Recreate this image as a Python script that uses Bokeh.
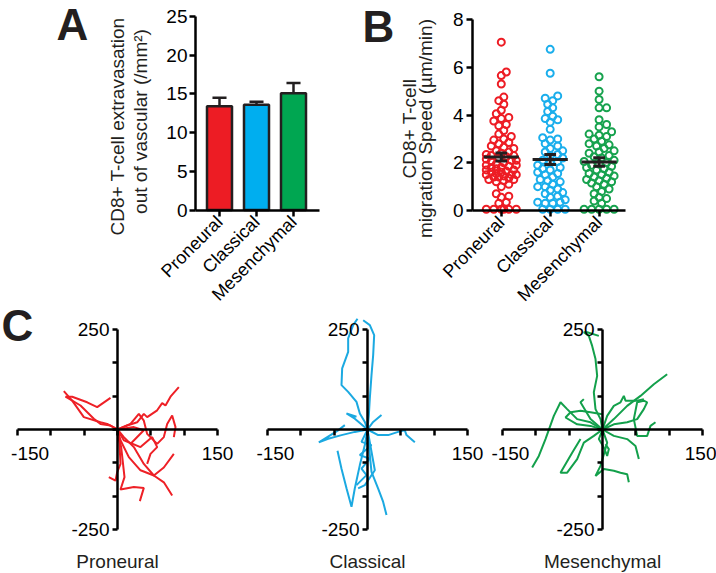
import math
import numpy as np
from bokeh.plotting import figure
from bokeh.models import Range1d, LinearAxis, FixedTicker
from bokeh.core.properties import value
from bokeh.embed import file_html
from bokeh.resources import INLINE

FONT = "Liberation Sans"
INK = "#231F20"
RED, BLUE, GREEN = "#ED1C24", "#00AEEF", "#00A651"
TRACK_COLORS = ["#EE2026", "#1BA9E1", "#13A04B"]
GROUPS = ["Proneural", "Classical", "Mesenchymal"]

# ---------------- Panel A data ----------------
A_MEAN = [13.4, 13.6, 15.1]
A_SEM = [1.1, 0.4, 1.3]
A_TICKS = [0, 5, 10, 15, 20, 25]
A_YLABEL = ["CD8+ T-cell extravasation", "out of vascular (/mm\u00b2)"]

# ---------------- Panel B data ----------------
B_PRONEURAL = [7.05, 5.8, 5.65, 5.3, 4.75, 4.6, 4.45, 4.2, 4.05, 3.9, 3.85, 3.75, 3.6,
               3.55, 3.35, 3.2, 3.1, 3.0, 2.95, 2.85, 2.8, 2.7, 2.65, 2.6, 2.5, 2.45,
               2.4, 2.35, 2.3, 2.3, 2.25, 2.2, 2.15, 2.1, 2.1, 2.05, 2.0, 1.95, 1.9,
               1.9, 1.85, 1.8, 1.8, 1.75, 1.7, 1.7, 1.65, 1.6, 1.6, 1.55, 1.5, 1.5,
               1.5, 1.45, 1.4, 1.4, 1.35, 1.3, 1.3, 1.25, 1.2, 1.1, 1.0, 0.7, 0.6,
               0.55, 0.35, 0.3, 0.05, 0.05, 0.05, 0.05, 0.05, 0.05]
B_CLASSICAL = [6.75, 5.75, 4.8, 4.7, 4.6, 4.45, 4.3, 4.15, 3.95, 3.85, 3.8, 3.7, 3.4,
               3.05, 3.0, 2.95, 2.8, 2.7, 2.6, 2.5, 2.45, 2.35, 2.3, 2.2, 2.1, 2.05,
               2.0, 1.9, 1.8, 1.75, 1.7, 1.6, 1.55, 1.5, 1.4, 1.3, 1.25, 1.2, 1.1, 1.0,
               1.0, 0.9, 0.85, 0.75, 0.7, 0.6, 0.55, 0.45, 0.35, 0.35, 0.3, 0.3,
               0.05, 0.05, 0.05, 0.05]
B_MESENCHYMAL = [5.6, 5.0, 4.65, 4.3, 4.3, 3.8, 3.6, 3.5, 3.3, 3.2, 3.15, 3.1, 3.0,
                 2.9, 2.8, 2.75, 2.7, 2.6, 2.5, 2.45, 2.4, 2.3, 2.25, 2.2, 2.1, 2.05,
                 2.0, 1.95, 1.9, 1.85, 1.8, 1.75, 1.7, 1.6, 1.55, 1.5, 1.45, 1.4, 1.35,
                 1.3, 1.25, 1.2, 1.15, 1.1, 1.0, 0.9, 0.8, 0.7, 0.55, 0.5, 0.4, 0.3,
                 0.05, 0.05, 0.05, 0.05, 0.05]
B_TICKS = [0, 2, 4, 6, 8]
B_YLABEL = ["CD8+ T-cell", "migration Speed (\u00b5m/min)"]

# ---------------- Panel C data (tracks, um) ----------------
PRONEURAL_X = [[0, -15.5, -25.5, -50.5, -68, -80.5],
               [0, -10.5, -25.5, -35.5, -55.5, -78, -68, -45.5, -30.5, -10.5],
               [0, 14.5, 29.5, 39.5, 44.5, 59.5, 67, 72, 79.5, 92],
               [0, 19.5, 32, 39.5, 44.5, 59.5, 69.5, 74.5, 82, 87, 84.5],
               [0, 9.5, 24.5, 39.5, 54.5, 69.5, 82],
               [0, 4.5, 17, 34.5, 54.5, 69.5, 84.5],
               [0, 3, 4.5, -0.5, -3, -13],
               [0, 5.5, 10.5, 4.5, 24.5, 39.5, 33.5],
               [0, 9.5, 34.5, 52, 59.5, 49.5, 44.5],
               [0, 24.5, 39.5, 27, 19.5]]
PRONEURAL_Y = [[0, 14, 18, 31, 72, 96],
               [0, 10, 14, 27, 60, 82, 82, 68, 56, 79],
               [0, 10, 18, 39, 31, 48, 66, 60, 82, 106],
               [0, 14, 39, 22, -11, -36, -19, 14, 35, 6, -19],
               [0, -19, -44, -86, -115, -132, -165],
               [0, -27, -69, -102, -115, -95, -61],
               [0, -36, -86, -107, -128, -119],
               [0, -44, -119, -150, -144, -146, -179],
               [0, -27, -44, -19, -44, -61, -86],
               [0, 6, -2, -23, -36]]
CLASSICAL_X = [[0, -4, -11.5, -16.5, -29, -39, -38, -29, -29, -21.5, -15],
               [0, 2, 3.5, 6, 8.5, 10, 3.5, -6.5],
               [0, -19, -39, -59, -73, -44, -34],
               [0, 16, 31, 46, 56, 58.5, 71],
               [0, -4, -11.5, -19, -24, -31.5, -39, -45],
               [0, 3.5, 6, 16, 23.5, 28.5],
               [0, -9, 6, -11.5, 3.5, -9, -1.5, -16.5],
               [0, 8.5, 21],
               [0, -19, -31.5, -16.5],
               [0, 11, -4, -14]]
CLASSICAL_Y = [[0, 19, 40, 69, 94, 111, 153, 194, 228, 261, 277],
               [0, 36, 78, 136, 186, 236, 261, 273],
               [0, -6, -14, -23, -32, -2, 11],
               [0, -14, -14, -6, -2, -14, -32],
               [0, -39, -89, -147, -193, -147, -98, -53],
               [0, -64, -106, -148, -181, -214],
               [0, -31, -39, -64, -73, -98, -114, -139],
               [0, 19, 36],
               [0, 27, 40, 32],
               [0, -102, -139, -147]]
MESENCHYMAL_X = [[0, -3, -10.5, -13, -8, -10.5, -15.5, -20.5, -28, -23, -5.5],
                 [0, 17, 37, 57, 77, 97],
                 [0, -18, -38, -53, -63, -73, -85.5, -95.5, -105.5],
                 [0, 17, 37, 52, 62, 67, 62, 52, 47, 52, 67, 72, 79.5],
                 [0, 7, 17, 27, 32, 34.5, 52, 62],
                 [0, -18, -38, -55.5, -48, -33, -18, -0.5],
                 [0, -13, -28, -38, -53, -63, -45.5, -33],
                 [0, 7, -3, -10.5, 2, 17, 27, 37, 39.5],
                 [0, 17, 37, 49.5, 54.5],
                 [0, -5.5, 2, 7, 9.5, 4.5],
                 [0, -18, -33, -28]]
MESENCHYMAL_Y = [[0, 26, 51, 93, 134, 176, 209, 234, 243, 243, 234],
                 [0, 26, 59, 84, 113, 138],
                 [0, 18, 26, 51, 68, 34, -24, -66, -95],
                 [0, 13, 18, 26, 51, 68, 72, 68, 26, -16, -16, 9, 18],
                 [0, 34, 59, 68, 84, 72, 72, 76],
                 [0, 9, 13, 30, 43, 47, 43, 38],
                 [0, -16, -33, -74, -108, -108, -58, -24],
                 [0, -33, -91, -116, -99, -103, -108, -112, -132],
                 [0, -16, -24, -41, -74],
                 [0, -24, -45, -66, -49, -37],
                 [0, 26, 68, 76]]
C_X_TICKS = [-150, -100, -50, 0, 50, 100, 150]
C_Y_TICKS = [-250, -167, -83, 0, 83, 167, 250]
C_NEG_LABEL = ["\u00a0\u00a0-150", "\u00a0\u00a0\u00a0-150", "\u00a0\u00a0\u00a0-150"]
C_Y_LABELS = {-250: "-250", 250: "250"}

# ---------------- canvas / layout ----------------
W, H = 716, 573          # canvas size (page has no margin in Bokeh's template)
OX, OY = 0, 0            # page offset of the canvas


def xr(v_ref, p_ref, s):
    """x range such that value v_ref sits at page x p_ref, s px per unit."""
    return Range1d(v_ref + (OX - p_ref) / s, v_ref + (OX + W - p_ref) / s)


def yr(v_ref, p_ref, s):
    """y range such that value v_ref sits at page y p_ref, s px per unit."""
    return Range1d(v_ref - (OY + H - p_ref) / s, v_ref + (p_ref - OY) / s)


def px(page_x):
    return page_x - OX


def py(page_y):
    return OY + H - page_y


p = figure(frame_width=W, frame_height=H, x_range=Range1d(0, W), y_range=Range1d(0, H),
           x_axis_type=None, y_axis_type=None, output_backend="svg",
           toolbar_location=None, min_border=0)
p.outline_line_color = None
p.grid.visible = False

A_SX, A_SY = 37.0, 7.74
B_SX, B_SY = 48.9, 23.875
C_SX, C_SY = 200 / 300, 200 / 500
p.extra_x_ranges = {"ax": xr(1, 219, A_SX), "bx": xr(1, 500.8, B_SX),
                    "c1": xr(0, 117, C_SX), "c2": xr(0, 367, C_SX), "c3": xr(0, 602, C_SX)}
p.extra_y_ranges = {"ay": yr(0, 209.5, A_SY), "by": yr(0, 210, B_SY), "cy": yr(0, 429, C_SY)}


def style_axis(ax, tick_out=6, standoff=3, size="19px"):
    ax.axis_line_width = 2.5
    ax.axis_line_color = "black"
    ax.major_tick_line_width = 2.5
    ax.major_tick_line_color = "black"
    ax.major_tick_out = tick_out
    ax.major_tick_in = 0
    ax.minor_tick_line_color = None
    ax.major_label_text_font = FONT
    ax.major_label_text_font_size = size
    ax.major_label_text_color = "black"
    ax.major_label_standoff = standoff


def add_text(page_x, page_y, text, size="19px", angle=0.0, bold=False, align="center"):
    p.text(x=[px(page_x)], y=[py(page_y)], text=[text], angle=angle,
           text_font=value(FONT), text_font_size=value(size),
           text_font_style=value("bold" if bold else "normal"),
           text_align=value(align), text_baseline=value("middle"), text_color=INK)


# ---------------- Panel A ----------------
A_X0, A_X1 = 0.351, 3.703
xa = np.arange(1, len(GROUPS) + 1)
a_top = np.array(A_MEAN) + np.array(A_SEM)
p.segment(x0=xa, y0=A_MEAN, x1=xa, y1=a_top, line_color=INK, line_width=2.5,
          x_range_name="ax", y_range_name="ay")
p.segment(x0=xa - 0.19, y0=a_top, x1=xa + 0.19, y1=a_top, line_color=INK, line_width=2.5,
          x_range_name="ax", y_range_name="ay")
p.vbar(x=xa, top=A_MEAN, width=0.676, fill_color=[RED, BLUE, GREEN], line_color=INK,
       line_width=2.5, x_range_name="ax", y_range_name="ay")
ay_ax = LinearAxis(x_range_name="ax", y_range_name="ay", fixed_location=A_X0, bounds=(0, 25),
                   ticker=FixedTicker(ticks=A_TICKS))
style_axis(ay_ax, tick_out=6, standoff=2)
p.add_layout(ay_ax, "left")
ax_ax = LinearAxis(x_range_name="ax", y_range_name="ay", fixed_location=0, bounds=(A_X0, A_X1),
                   ticker=FixedTicker(ticks=list(xa)),
                   major_label_overrides={int(i): g for i, g in zip(xa, GROUPS)},
                   major_label_orientation=math.pi / 4)
style_axis(ax_ax, tick_out=6, standoff=3, size="18px")
p.add_layout(ax_ax, "below")
add_text(116.5, 126, A_YLABEL[0], angle=math.pi / 2)
add_text(140.0, 121, A_YLABEL[1], angle=math.pi / 2)
add_text(56, 24, "A", size="44px", bold=True, align="left")

# ---------------- Panel B ----------------
B_X0, B_X1 = 0.411, 3.54


def swarm(vals, diam=6.0, max_off=15.0, step=2.5):
    vals = np.asarray(vals, dtype=float)
    cands = [0.0]
    k = 1
    while k * step <= max_off + 1e-9:
        cands += [k * step, -k * step]
        k += 1
    placed = []
    offs = np.zeros(len(vals))
    for i in np.argsort(vals, kind="stable"):
        yy = vals[i] * B_SY
        chosen, best_c, best_d = None, 0.0, -1.0
        for c in cands:
            d = min((math.hypot(c - qx, yy - qy) for qx, qy in placed), default=1e9)
            if d >= diam:
                chosen = c
                break
            if d > best_d:
                best_d, best_c = d, c
        if chosen is None:
            chosen = best_c
        placed.append((chosen, yy))
        offs[i] = chosen / B_SX
    return offs


b_groups = [B_PRONEURAL, B_CLASSICAL, B_MESENCHYMAL]
b_colors = ["#ED1C24", "#1AAEEC", "#17A24E"]
for i, (vals, col) in enumerate(zip(b_groups, b_colors)):
    xs = (i + 1) + swarm(vals)
    p.scatter(x=xs, y=vals, size=7, fill_color=None, line_color=col, line_width=2,
              x_range_name="bx", y_range_name="by")
means = np.array([np.mean(v) for v in b_groups])
sems = np.array([np.std(v, ddof=1) / math.sqrt(len(v)) for v in b_groups])
xb = np.arange(1, 4)
for x0, y0, x1, y1 in [(xb - 0.36, means, xb + 0.36, means),
                       (xb, means - sems, xb, means + sems),
                       (xb - 0.12, means + sems, xb + 0.12, means + sems),
                       (xb - 0.12, means - sems, xb + 0.12, means - sems)]:
    p.segment(x0=x0, y0=y0, x1=x1, y1=y1, line_color=INK, line_width=3,
              x_range_name="bx", y_range_name="by")
by_ax = LinearAxis(x_range_name="bx", y_range_name="by", fixed_location=B_X0, bounds=(0, 8),
                   ticker=FixedTicker(ticks=B_TICKS))
style_axis(by_ax, tick_out=6, standoff=3)
p.add_layout(by_ax, "left")
bx_ax = LinearAxis(x_range_name="bx", y_range_name="by", fixed_location=0, bounds=(B_X0, B_X1),
                   ticker=FixedTicker(ticks=list(xb)),
                   major_label_overrides={int(i): g for i, g in zip(xb, GROUPS)},
                   major_label_orientation=math.pi / 4)
style_axis(bx_ax, tick_out=6, standoff=3, size="18px")
p.add_layout(bx_ax, "below")
add_text(408.5, 128, B_YLABEL[0], angle=math.pi / 2)
add_text(425.0, 128, B_YLABEL[1], angle=math.pi / 2)
add_text(362, 26, "B", size="44px", bold=True, align="left")

# ---------------- Panel C ----------------
tracks = [(PRONEURAL_X, PRONEURAL_Y), (CLASSICAL_X, CLASSICAL_Y), (MESENCHYMAL_X, MESENCHYMAL_Y)]
for name, (tx, ty), col, lab, neg in zip(["c1", "c2", "c3"], tracks, TRACK_COLORS, GROUPS,
                                         C_NEG_LABEL):
    p.multi_line(xs=tx, ys=ty, line_color=col, line_width=2,
                 x_range_name=name, y_range_name="cy")
    xl = {t: "" for t in C_X_TICKS}
    xl[-150] = neg
    xl[150] = "150"
    yl = {t: C_Y_LABELS.get(t, "") for t in C_Y_TICKS}
    xax = LinearAxis(x_range_name=name, y_range_name="cy", fixed_location=0, bounds=(-150, 150),
                     ticker=FixedTicker(ticks=C_X_TICKS), major_label_overrides=xl)
    style_axis(xax, tick_out=6, standoff=7)
    p.add_layout(xax, "below")
    yax = LinearAxis(x_range_name=name, y_range_name="cy", fixed_location=0, bounds=(-250, 250),
                     ticker=FixedTicker(ticks=C_Y_TICKS), major_label_overrides=yl)
    style_axis(yax, tick_out=5, standoff=3)
    p.add_layout(yax, "left")
    p.text(x=[0], y=[-330], text=[lab], x_range_name=name, y_range_name="cy",
           text_font=value(FONT), text_font_size=value("19px"), text_align=value("center"),
           text_baseline=value("middle"), text_color=INK)
add_text(1, 325, "C", size="44px", bold=True, align="left")

open("out.html", "w").write(file_html(p, INLINE))
